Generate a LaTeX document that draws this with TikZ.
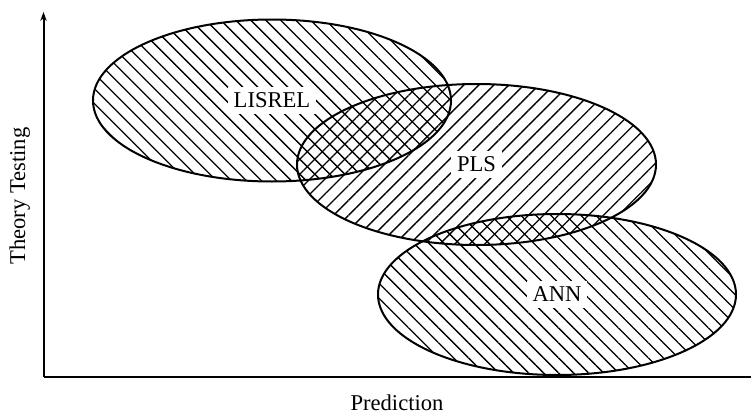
\documentclass[tikz,border=0pt]{standalone}
\usepackage{fontspec}
\setmainfont{Liberation Serif}
\usetikzlibrary{patterns.meta,arrows.meta}

\begin{document}
\begin{tikzpicture}[x=0.5pt,y=0.5pt,
    nwhatch/.style={pattern={Lines[angle=-45,distance=5.3pt,line width=0.65pt]}},
    nehatch/.style={pattern={Lines[angle=45,distance=5.3pt,line width=0.65pt]}},
    rim/.style={draw=black, line width=1pt},
    lbl/.style={fill=white, inner sep=3pt, font=\fontsize{11.3}{13}\selectfont}]
    \useasboundingbox (0,0) rectangle (751,414);

    \path[nwhatch] (272,313.5) ellipse [x radius=179, y radius=81];
    \path[nehatch] (476.5,249.5) ellipse [x radius=179.5, y radius=80.5];
    \path[nwhatch] (557,119.5) ellipse [x radius=179, y radius=80.5];

    \draw[rim] (272,313.5) ellipse [x radius=179, y radius=81];
    \draw[rim] (476.5,249.5) ellipse [x radius=179.5, y radius=80.5];
    \draw[rim] (557,119.5) ellipse [x radius=179, y radius=80.5];

    \node[lbl] (lisrel) at (272,313.5) {LISREL};
    \node[lbl] (pls) at (476.5,249.5) {PLS};
    \node[lbl] (ann) at (557,119.5) {ANN};

    \coordinate (origin) at (43.5,37);
    \coordinate (ytop) at (43.5,402);
    \coordinate (xend) at (751,37);
    \draw[line width=1pt, -{Stealth[length=4.5pt,width=3.2pt]}] (origin) -- (ytop);
    \draw[line width=1pt] (origin) -- (xend);

    \node[font=\fontsize{11.3}{13}\selectfont, rotate=90, anchor=base] (ylabel) at (25,218) {Theory Testing};
    \node[font=\fontsize{11.3}{13}\selectfont, anchor=base] (xlabel) at (397,4) {Prediction};

\end{tikzpicture}
\end{document}
